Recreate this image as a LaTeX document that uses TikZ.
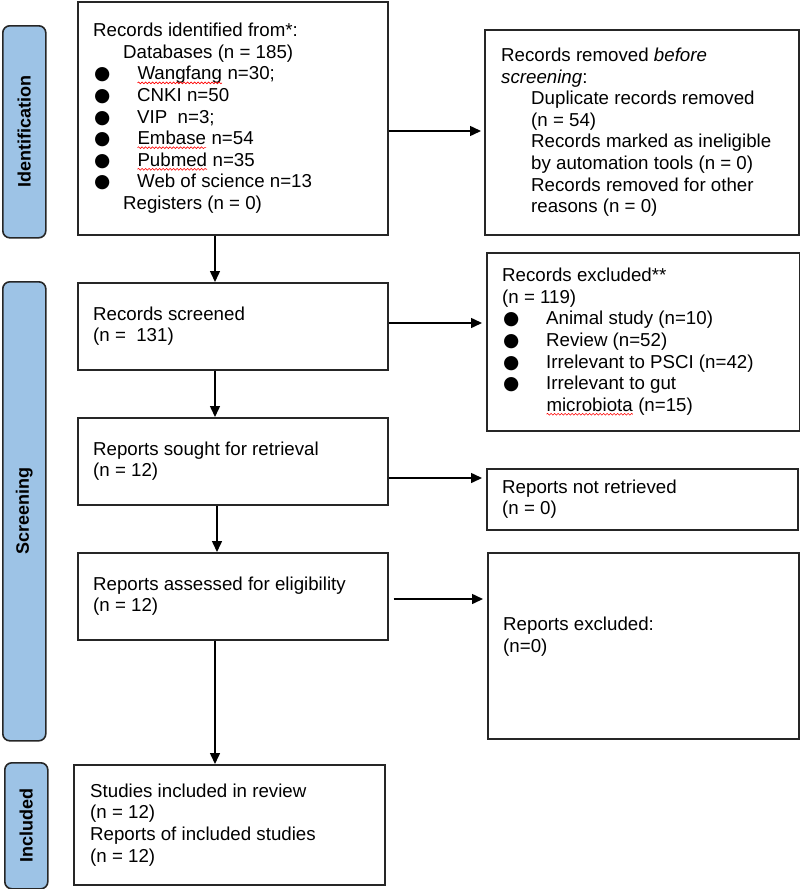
\documentclass[tikz,border=0pt]{standalone}
\usepackage{fontspec}
\setmainfont{Liberation Sans}
\newfontfamily\dejavu{DejaVu Sans}
\usetikzlibrary{arrows.meta,decorations.pathmorphing}
\definecolor{sideblue}{RGB}{157,195,230}
\newcommand\redwave[1]{\tikz[baseline=(wv.base)]{\node[inner sep=0pt,outer sep=0pt,anchor=base,draw=none,fill=none] (wv) {#1};
  \draw[red, line width=0.6pt, decorate, decoration={snake,amplitude=0.9pt,segment length=3.5pt}] ([yshift=-3pt]wv.base west) -- ([yshift=-3pt]wv.base east);}}
\newcommand\bul{\makebox[44pt][l]{\hspace{1pt}{\dejavu ●}}}
\begin{document}
\begin{tikzpicture}[x=1pt,y=-1pt,
  box/.style={draw=black!85, line width=1.5pt, rectangle, inner sep=0pt, anchor=north west},
  side/.style={draw=black!85, fill=sideblue, line width=1.6pt, rounded corners=7pt, inner sep=0pt, anchor=north west},
  sidetxt/.style={rotate=90, font=\fontsize{18}{20}\selectfont\bfseries, inner sep=0pt},
  txt/.style={anchor=west, align=left, inner sep=0pt, font=\fontsize{18.7}{21.6}\selectfont},
  arr/.style={line width=1.5pt, -{Triangle[length=11pt,width=10pt]}}
]
\useasboundingbox (0,0) rectangle (800,889);

% side bars
\node[side, minimum width=43pt, minimum height=212pt] (S1) at (2,25) {};
\node[sidetxt] (S1-t) at (S1.center) {Identification};
\node[side, minimum width=43pt, minimum height=459pt] (S2) at (2,281) {};
\node[sidetxt] (S2-t) at (S2.center) {Screening};
\node[side, minimum width=43pt, minimum height=126pt] (S3) at (4,762) {};
\node[sidetxt] (S3-t) at (S3.center) {Included};

% boxes
\node[box, minimum width=310pt, minimum height=233pt] (B1) at (77,1) {};
\node[box, minimum width=314pt, minimum height=205pt] (R1) at (484,29) {};
\node[box, minimum width=310pt, minimum height=87pt] (B2) at (77,282) {};
\node[box, minimum width=313pt, minimum height=178pt] (R2) at (486,252) {};
\node[box, minimum width=310pt, minimum height=87pt] (B3) at (77,417) {};
\node[box, minimum width=311pt, minimum height=61pt] (R3) at (486,468) {};
\node[box, minimum width=310pt, minimum height=87pt] (B4) at (77,552) {};
\node[box, minimum width=311pt, minimum height=186pt] (R4) at (487,552) {};
\node[box, minimum width=311pt, minimum height=120pt] (B5) at (73,764) {};

% texts
\node[txt] (B1-t) at ([xshift=16pt]B1.west) {Records identified from*:\\
\hspace*{30pt}Databases (n = 185)\\
\bul\redwave{Wangfang} n=30;\\
\bul CNKI n=50\\
\bul VIP\ \ n=3;\\
\bul\redwave{Embase} n=54\\
\bul\redwave{Pubmed} n=35\\
\bul Web of science n=13\\
\hspace*{30pt}Registers (n = 0)};

\node[txt] (R1-t) at ([xshift=17pt]R1.west) {Records removed \textit{before}\\
\textit{screening}:\\
\hspace*{30pt}Duplicate records removed\\
\hspace*{30pt}(n = 54)\\
\hspace*{30pt}Records marked as ineligible\\
\hspace*{30pt}by automation tools (n = 0)\\
\hspace*{30pt}Records removed for other\\
\hspace*{30pt}reasons (n = 0)};

\node[txt] (B2-t) at ([xshift=16pt]B2.west) {Records screened\\(n =\ \ 131)};

\node[txt] (R2-t) at ([xshift=16pt]R2.west) {Records excluded**\\
(n = 119)\\
\bul Animal study (n=10)\\
\bul Review (n=52)\\
\bul Irrelevant to PSCI (n=42)\\
\bul Irrelevant to gut\\
\hspace*{44pt}\redwave{microbiota} (n=15)};

\node[txt] (B3-t) at ([xshift=16pt]B3.west) {Reports sought for retrieval\\(n = 12)};
\node[txt] (R3-t) at ([xshift=16pt]R3.west) {Reports not retrieved\\(n = 0)};
\node[txt] (B4-t) at ([xshift=16pt]B4.west) {Reports assessed for eligibility\\(n = 12)};
\node[txt] (R4-t) at ([xshift=16pt,yshift=9pt]R4.west) {Reports excluded:\\(n=0)};
\node[txt] (B5-t) at ([xshift=17pt]B5.west) {Studies included in review\\(n = 12)\\Reports of included studies\\(n = 12)};

% arrows
\coordinate (a1) at (215,0);
\coordinate (a3) at (217,0);
\draw[arr] (B1.south -| a1) -- (B2.north -| a1);
\draw[arr] (B2.south -| a1) -- (B3.north -| a1);
\draw[arr] (B3.south -| a3) -- (B4.north -| a3);
\draw[arr] (B4.south -| a1) -- (B5.north -| a1);

\coordinate (h1) at (0,131);
\coordinate (h2) at (0,323);
\coordinate (h3) at (0,478);
\coordinate (h4) at (0,599);
\draw[arr, shorten >=3pt] (B1.east |- h1) -- (R1.west |- h1);
\draw[arr, shorten >=4pt] (B2.east |- h2) -- (R2.west |- h2);
\draw[arr, shorten >=4pt] (B3.east |- h3) -- (R3.west |- h3);
\draw[arr, shorten <=5pt, shorten >=4pt] (B4.east |- h4) -- (R4.west |- h4);
\end{tikzpicture}
\end{document}
